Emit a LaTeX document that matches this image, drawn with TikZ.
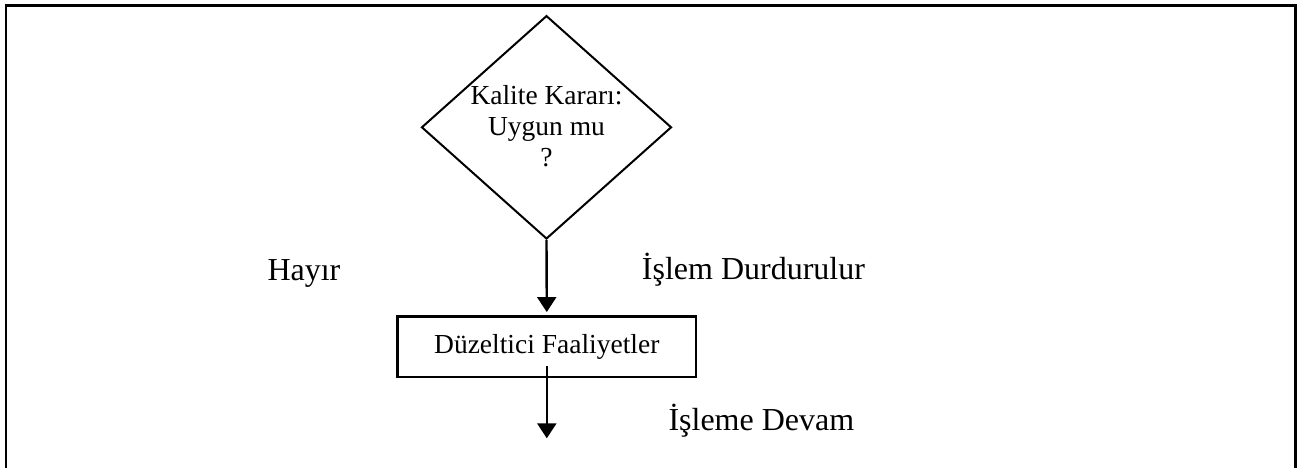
\documentclass[tikz,border=0pt]{standalone}
\usepackage{fontspec}
\setmainfont{Liberation Serif}
\usetikzlibrary{shapes.geometric,arrows.meta,calc}

\begin{document}
\begin{tikzpicture}[x=1pt,y=-1pt,
  decision/.style={draw,diamond,line width=2pt,minimum width=250pt,minimum height=223.3pt,inner sep=0pt},
  qtext/.style={align=center,inner sep=0pt,anchor=base,font=\fontsize{27.5}{31.3}\selectfont},
  actbox/.style={draw,rectangle,line width=2.6pt,minimum width=298.3pt,minimum height=60.5pt,inner sep=0pt,font=\fontsize{27.5}{31.3}\selectfont},
  flow/.style={line width=2.4pt,-{Triangle[width=19pt,length=15pt]}},
  lbl/.style={font=\fontsize{32}{36}\selectfont,inner sep=0pt,anchor=base west}]

  \useasboundingbox (0,0) rectangle (1301,468);

  % outer frame, open at the bottom
  \draw[line width=2.5pt] (6,468) -- (6,5.7) -- (1295.5,5.7) -- (1295.5,468);

  % decision
  \node[decision] (dec) at (546.5,127.3) {};
  \node[qtext] (dectext) at (546.5,166.6) {Kalite Kararı:\\Uygun mu\\?};

  % corrective action box
  \node[actbox] (act) at (546.8,346.8) {Düzeltici Faaliyetler};

  % end point of the outgoing arrow
  \coordinate (out) at (546.8,438.3);

  % connectors
  \draw[flow,shorten >=3.2pt] (dec.south) -- (act.north);
  \draw[flow] ($(act.south)+(0,-12)$) -- (out);

  % labels
  \node[lbl] (no) at (267.3,280) {Hayır};
  \node[lbl] (stop) at (641.7,279.5) {İşlem Durdurulur};
  \node[lbl] (cont) at (668.3,430) {İşleme Devam};
\end{tikzpicture}
\end{document}
